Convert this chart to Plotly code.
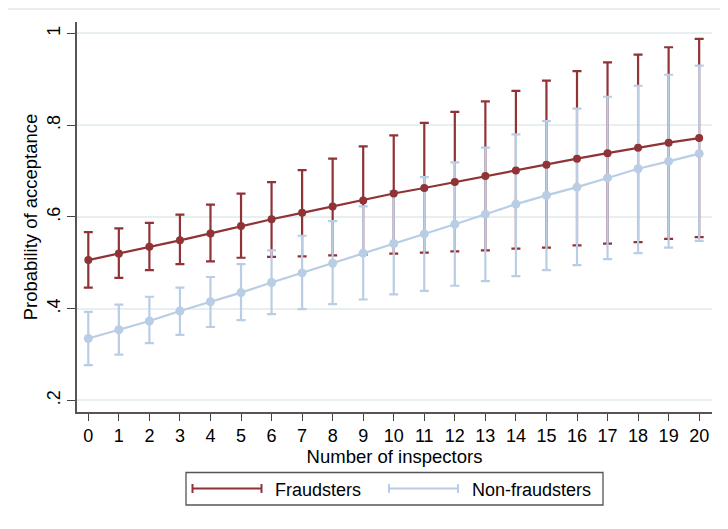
import plotly.graph_objects as go

inspectors = list(range(21))
fraud_mean = [0.506, 0.520, 0.535, 0.549, 0.564, 0.580, 0.595, 0.609, 0.623, 0.636, 0.651,
              0.663, 0.676, 0.689, 0.701, 0.714, 0.727, 0.739, 0.751, 0.762, 0.772]
fraud_lo = [0.446, 0.467, 0.484, 0.497, 0.503, 0.511, 0.513, 0.514, 0.516, 0.518, 0.520,
            0.522, 0.525, 0.527, 0.531, 0.533, 0.538, 0.542, 0.545, 0.552, 0.556]
fraud_hi = [0.567, 0.575, 0.587, 0.605, 0.627, 0.651, 0.676, 0.702, 0.727, 0.754, 0.778,
            0.805, 0.829, 0.852, 0.875, 0.897, 0.918, 0.937, 0.954, 0.970, 0.988]
nonfraud_mean = [0.335, 0.354, 0.373, 0.395, 0.415, 0.435, 0.457, 0.478, 0.499, 0.521, 0.542,
                 0.563, 0.584, 0.606, 0.628, 0.647, 0.665, 0.685, 0.705, 0.721, 0.738]
nonfraud_lo = [0.277, 0.300, 0.325, 0.343, 0.360, 0.375, 0.388, 0.399, 0.410, 0.420, 0.431,
               0.439, 0.450, 0.460, 0.471, 0.484, 0.495, 0.508, 0.521, 0.533, 0.548]
nonfraud_hi = [0.393, 0.409, 0.426, 0.446, 0.469, 0.497, 0.527, 0.559, 0.591, 0.623, 0.656,
               0.687, 0.719, 0.751, 0.780, 0.809, 0.836, 0.862, 0.886, 0.910, 0.930]
y_tickvals = [0.2, 0.4, 0.6, 0.8, 1.0]
y_ticktext = [".2", ".4", ".6", ".8", "1"]
series_names = ["Fraudsters", "Non-fraudsters"]

RED = "#903336"
BLUE = "#b9cde5"
FONT = "Liberation Sans, Arial, sans-serif"

# page body has an 8px margin, so the figure is drawn 8px right/down
OFF = 8
W, H = 728 - OFF, 529 - OFF
# desired plot area in screen pixels: x 77..712, y 22..412
PL, PR, PT, PB = 77, 712, 22, 412
ML, MT = PL - OFF, PT - OFF
MR, MB = W + OFF - PR, H + OFF - PB
PW, PH = PR - PL, PB - PT


def px(x):
    return (x - PL) / PW


def py(y):
    return (PB - y) / PH


fig = go.Figure()


def err_trace(mean, lo, hi, color):
    return go.Scatter(
        x=inspectors, y=mean, mode="markers",
        marker=dict(size=1, opacity=0, color=color),
        error_y=dict(type="data", symmetric=False,
                     array=[h - m for h, m in zip(hi, mean)],
                     arrayminus=[m - l for m, l in zip(mean, lo)],
                     color=color, thickness=2.2, width=4.5),
        showlegend=False, hoverinfo="skip")


fig.add_trace(err_trace(fraud_mean, fraud_lo, fraud_hi, RED))
fig.add_trace(err_trace(nonfraud_mean, nonfraud_lo, nonfraud_hi, BLUE))
fig.add_trace(go.Scatter(x=inspectors, y=fraud_mean, mode="lines+markers", name=series_names[0],
                         line=dict(color=RED, width=2.2), marker=dict(color=RED, size=8),
                         showlegend=False))
fig.add_trace(go.Scatter(x=inspectors, y=nonfraud_mean, mode="lines+markers", name=series_names[1],
                         line=dict(color=BLUE, width=2.2), marker=dict(color=BLUE, size=9),
                         showlegend=False))

shapes = []
annotations = []
# faint outer top border
shapes.append(dict(type="line", xref="paper", yref="paper", x0=px(OFF), x1=px(728), y0=py(OFF + 1), y1=py(OFF + 1),
                   line=dict(color="#e6eef0", width=2)))
# legend box
shapes.append(dict(type="rect", xref="paper", yref="paper", x0=px(186), x1=px(603), y0=py(505), y1=py(472.5),
                   line=dict(color="#555555", width=1.3), fillcolor="white"))
legend_items = [(192.5, 261.5, 273, RED), (389, 458, 469.5, BLUE)]
for (x0, x1, tx, col), name in zip(legend_items, series_names):
    yc = 488.5
    shapes.append(dict(type="line", xref="paper", yref="paper", x0=px(x0), x1=px(x1), y0=py(yc), y1=py(yc),
                       line=dict(color=col, width=2)))
    for xe in (x0, x1):
        shapes.append(dict(type="line", xref="paper", yref="paper", x0=px(xe), x1=px(xe),
                           y0=py(yc - 4.5), y1=py(yc + 4.5), line=dict(color=col, width=2)))
    annotations.append(dict(text=name, xref="paper", yref="paper", x=px(tx), y=py(yc + 1),
                            xanchor="left", yanchor="middle", showarrow=False,
                            font=dict(family=FONT, size=18, color="black")))

fig.update_layout(
    width=W, height=H,
    margin=dict(l=ML, r=MR, t=MT, b=MB, pad=0, autoexpand=False),
    paper_bgcolor="white", plot_bgcolor="white",
    font=dict(family=FONT, color="black"),
    shapes=shapes, annotations=annotations,
    showlegend=False,
)
fig.update_xaxes(
    range=[-0.37, 20.42], tickvals=inspectors, ticktext=[str(i) for i in inspectors],
    ticks="outside", ticklen=7, tickwidth=1.2, tickcolor="#444444",
    showline=True, linecolor="#555555", linewidth=1.5, showgrid=False, zeroline=False,
    tickfont=dict(family=FONT, size=18), automargin=False,
    title=dict(text="Number of inspectors", font=dict(family=FONT, size=18.5), standoff=2),
)
fig.update_yaxes(
    range=[0.1747, 1.025], tickvals=y_tickvals, ticktext=y_ticktext, tickangle=-90,
    ticks="outside", ticklen=8, tickwidth=1.2, tickcolor="#444444",
    showline=True, linecolor="#555555", linewidth=1.5,
    showgrid=True, gridcolor="#e8eff1", gridwidth=1.5, zeroline=False,
    tickfont=dict(family=FONT, size=18), automargin=False,
    title=dict(text="Probability of acceptance", font=dict(family=FONT, size=18.5), standoff=2),
)

fig.write_html("out.html")
